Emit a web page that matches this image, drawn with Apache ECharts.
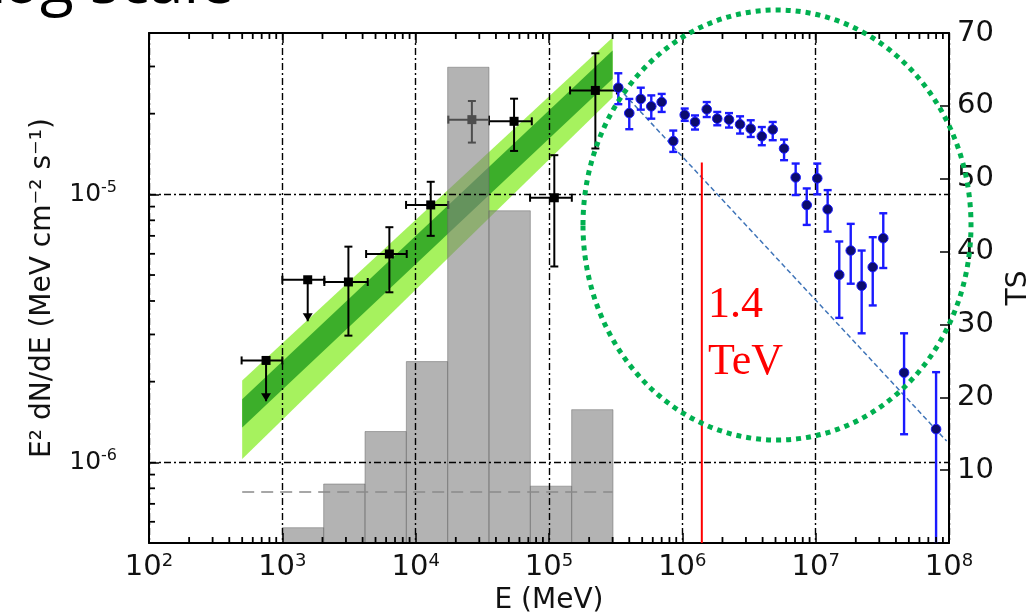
<!DOCTYPE html>
<html>
<head>
<meta charset="utf-8">
<title>SED log scale</title>
<script src="https://cdn.jsdelivr.net/npm/echarts@6/dist/echarts.min.js"></script>
<style>
  html, body { margin: 0; padding: 0; background: #fff; }
  #chart { width: 1033px; height: 613px; }
</style>
</head>
<body>
<div id="chart"></div>
<script>
// power-law fit band (E in MeV, E^2 dN/dE in MeV cm^-2 s^-1)
var bandE = [500, 3.0e5];
var bandOuterLo = [1.03e-6, 2.30e-5];
var bandOuterHi = [2.02e-6, 3.85e-5];
var bandInnerLo = [1.35e-6, 2.70e-5];
var bandInnerHi = [1.72e-6, 3.44e-5];

// black points
var fermiE   = [755, 1550, 3130, 6350, 12970, 26400, 54700, 109600, 222700];
var fermiELo = [495, 1000, 2065, 4250, 8470, 17600, 35500, 72100, 143900];
var fermiEHi = [1000, 2065, 4370, 8570, 17580, 35500, 74300, 148300, 323000];
var fermiF   = [2.40e-6, 4.80e-6, 4.71e-6, 5.99e-6, 9.13e-6, 1.90e-5, 1.873e-5, 9.71e-6, 2.442e-5];
var fermiFLo = [1.69e-6, 3.36e-6, 2.97e-6, 4.31e-6, 7.00e-6, 1.56e-5, 1.452e-5, 5.38e-6, 1.483e-5];
var fermiFHi = [2.40e-6, 4.80e-6, 6.38e-6, 7.54e-6, 1.114e-5, 2.23e-5, 2.275e-5, 1.40e-5, 3.36e-5];
var fermiUL  = [1, 1, 0, 0, 0, 0, 0, 0, 0];

// blue points
var hawcE = [3.31e5, 4.00e5, 4.88e5, 5.85e5, 7.00e5, 8.55e5, 1.042e6, 1.245e6, 1.524e6, 1.828e6,
             2.239e6, 2.710e6, 3.258e6, 3.945e6, 4.764e6, 5.794e6, 7.079e6, 8.570e6, 1.028e7, 1.230e7,
             1.503e7, 1.832e7, 2.213e7, 2.679e7, 3.214e7, 4.603e7, 8.000e7];
var hawcF = [2.50e-5, 2.01e-5, 2.27e-5, 2.13e-5, 2.21e-5, 1.58e-5, 1.98e-5, 1.862e-5, 2.075e-5, 1.916e-5,
             1.90e-5, 1.825e-5, 1.758e-5, 1.647e-5, 1.745e-5, 1.483e-5, 1.156e-5, 9.12e-6, 1.147e-5, 8.79e-6,
             5.01e-6, 6.17e-6, 4.56e-6, 5.35e-6, 6.86e-6, 2.16e-6, 1.33e-6];
var hawcFHi = [2.83e-5, 2.27e-5, 2.50e-5, 2.34e-5, 2.37e-5, 1.73e-5, 2.09e-5, 1.97e-5, 2.21e-5, 2.03e-5,
               2.01e-5, 1.955e-5, 1.89e-5, 1.783e-5, 1.862e-5, 1.601e-5, 1.303e-5, 1.052e-5, 1.303e-5, 1.037e-5,
               6.67e-6, 7.76e-6, 6.17e-6, 6.92e-6, 8.50e-6, 3.03e-6, 2.17e-6];
var hawcFLo = [2.17e-5, 1.75e-5, 2.07e-5, 1.916e-5, 2.03e-5, 1.44e-5, 1.88e-5, 1.745e-5, 1.943e-5, 1.81e-5,
               1.775e-5, 1.686e-5, 1.637e-5, 1.525e-5, 1.592e-5, 1.341e-5, 9.94e-6, 7.69e-6, 1.0e-5, 7.26e-6,
               3.46e-6, 4.64e-6, 3.03e-6, 3.85e-6, 5.31e-6, 1.273e-6, 3.0e-7];

// TS histogram (right axis)
var tsBinLo = [1000, 2042, 4169, 8511, 17378, 35481, 72444, 147911];
var tsBinHi = [2042, 4169, 8511, 17378, 35481, 72444, 147911, 301995];
var tsValue = [2.1, 8.1, 15.3, 24.9, 65.3, 45.6, 7.8, 18.3];
var tsLevelE = [500, 3.0e5];
var tsLevel = [7, 7];

// dashed extrapolation and 1.4 TeV marker
var slopeE = [3.31e5, 9.6e7];
var slopeF = [2.50e-5, 1.20e-6];
var markE = [1.4e6, 1.4e6];
var markF = [5e-7, 1.315e-5];

// axis ranges
var xMin = 1e2, xMax = 1e8;
var yMin = 5e-7, yMax = 4e-5;

// minor tick positions (2..9 x 10^n) inside a range
function minorList(lo, hi) {
    var out = [];
    for (var d = Math.floor(Math.log10(lo)); d <= Math.ceil(Math.log10(hi)); d++) {
        for (var k = 2; k <= 9; k++) {
            var v = k * Math.pow(10, d);
            if (v > lo * 1.0001 && v < hi * 0.9999) out.push(v);
        }
    }
    return out;
}

var xMinor = minorList(xMin, xMax);
var yMinor = minorList(yMin, yMax);

// rows: [x, y, side]  side 0 = bottom, 1 = top, 2 = left
var minorRows = [];
xMinor.forEach(function (v) { minorRows.push([v, yMin, 0]); minorRows.push([v, yMax, 1]); });
yMinor.forEach(function (v) { minorRows.push([xMin, v, 2]); });

var frame = {show: true, lineStyle: {color: '#000', width: 2}};
var dashDot = {show: true, lineStyle: {color: '#000', width: 1.4, type: [7, 3, 2, 3]}};
var tickStyle = {color: '#000', width: 1.5};
var font = 'DejaVu Sans';

function powLabel(v) {
    return '{b|10}{s|' + Math.round(Math.log10(v)) + '}';
}

function band(lo, hi, color) {
    return function (params, api) {
        if (params.dataIndex !== 0) return;
        var pts = [];
        for (var i = 0; i < bandE.length; i++) pts.push(api.coord([bandE[i], hi[i]]));
        for (var j = bandE.length - 1; j >= 0; j--) pts.push(api.coord([bandE[j], lo[j]]));
        return {type: 'polygon', shape: {points: pts}, style: {fill: color}};
    };
}

function seg(a, b, st) {
    return {type: 'line', shape: {x1: a[0], y1: a[1], x2: b[0], y2: b[1]}, style: st};
}

function fermiItem(params, api) {
    var i = params.dataIndex;
    var st = {stroke: '#000', lineWidth: 2};
    var c = api.coord([fermiE[i], fermiF[i]]);
    var l = api.coord([fermiELo[i], fermiF[i]]);
    var r = api.coord([fermiEHi[i], fermiF[i]]);
    var lo = api.coord([fermiE[i], fermiFLo[i]]);
    var hi = api.coord([fermiE[i], fermiFHi[i]]);
    var ch = [
        seg(l, r, st),
        seg([l[0], l[1] - 4], [l[0], l[1] + 4], st),
        seg([r[0], r[1] - 4], [r[0], r[1] + 4], st),
        seg(hi, lo, st)
    ];
    if (fermiUL[i]) {
        ch.push({type: 'polygon', shape: {points: [[lo[0] - 5, lo[1] - 8], [lo[0] + 5, lo[1] - 8], [lo[0], lo[1]]]},
            style: {fill: '#000'}});
    } else {
        ch.push(seg([hi[0] - 4, hi[1]], [hi[0] + 4, hi[1]], st));
        ch.push(seg([lo[0] - 4, lo[1]], [lo[0] + 4, lo[1]], st));
    }
    ch.push({type: 'rect', shape: {x: c[0] - 4.5, y: c[1] - 4.5, width: 9, height: 9}, style: {fill: '#000'}});
    return {type: 'group', children: ch};
}

function hawcItem(params, api) {
    var i = params.dataIndex;
    var st = {stroke: '#1a1aff', lineWidth: 2.4};
    var c = api.coord([hawcE[i], hawcF[i]]);
    var lo = api.coord([hawcE[i], hawcFLo[i]]);
    var hi = api.coord([hawcE[i], hawcFHi[i]]);
    return {type: 'group', children: [
        seg(hi, lo, st),
        seg([hi[0] - 4, hi[1]], [hi[0] + 4, hi[1]], st),
        seg([lo[0] - 4, lo[1]], [lo[0] + 4, lo[1]], st),
        {type: 'circle', shape: {cx: c[0], cy: c[1], r: 4.8}, style: {fill: '#0c0c6e', stroke: '#1a1aff', lineWidth: 1}}
    ]};
}

function tsBarItem(params, api) {
    var i = params.dataIndex;
    var p0 = api.coord([tsBinLo[i], 0]);
    var p1 = api.coord([tsBinHi[i], tsValue[i]]);
    return {type: 'rect',
        shape: {x: p0[0], y: p1[1], width: p1[0] - p0[0], height: p0[1] - p1[1]},
        style: {fill: 'rgba(128,128,128,0.6)', stroke: 'rgba(95,95,95,0.45)', lineWidth: 1}};
}

// minor ticks on the frame
function minorItem(params, api) {
    var row = minorRows[params.dataIndex];
    var p = api.coord([row[0], row[1]]);
    var q;
    if (row[2] === 0) q = [p[0], p[1] - 6];
    else if (row[2] === 1) q = [p[0], p[1] + 6];
    else q = [p[0] + 6, p[1]];
    return {type: 'line', shape: {x1: p[0], y1: p[1], x2: q[0], y2: q[1]},
        style: {stroke: '#000', lineWidth: 1.8}};
}

var myChart = echarts.init(document.getElementById('chart'));

var option = {
    animation: false,
    backgroundColor: '#fff',
    grid: {left: 149, right: 84, top: 33, bottom: 70, containLabel: false, outerBoundsMode: 'none'},
    xAxis: [
        {
            type: 'log', min: xMin, max: xMax, position: 'bottom', z: 5,
            axisLine: frame,
            axisTick: {show: true, inside: true, length: 10, lineStyle: tickStyle},
            axisLabel: {
                margin: 9, formatter: powLabel,
                rich: {
                    b: {fontSize: 29, fontFamily: font, color: '#111', lineHeight: 30},
                    s: {fontSize: 18, fontFamily: font, color: '#111', verticalAlign: 'top', lineHeight: 14}
                }
            },
            splitLine: dashDot,
            name: 'E (MeV)', nameLocation: 'middle', nameGap: 44,
            nameTextStyle: {fontSize: 28, fontFamily: font, color: '#111'}
        },
        {
            type: 'log', min: xMin, max: xMax, position: 'top', z: 5,
            axisLine: frame,
            axisTick: {show: true, inside: true, length: 10, lineStyle: tickStyle},
            axisLabel: {show: false}, splitLine: {show: false}
        }
    ],
    yAxis: [
        {
            type: 'log', min: yMin, max: yMax, position: 'left', z: 5,
            axisLine: frame,
            axisTick: {show: true, inside: true, length: 10, customValues: [1e-6, 1e-5], lineStyle: tickStyle},
            axisLabel: {
                margin: 32, customValues: [1e-6, 1e-5],
                formatter: function (v) {
                    return '{b|10}{s|-' + Math.abs(Math.round(Math.log10(v))) + '}';
                },
                rich: {
                    b: {fontSize: 25, fontFamily: font, color: '#111', lineHeight: 28},
                    s: {fontSize: 16, fontFamily: font, color: '#111', verticalAlign: 'top', lineHeight: 12}
                }
            },
            splitLine: dashDot,
            name: 'E\u00b2 dN/dE (MeV cm\u207b\u00b2 s\u207b\u00b9)', nameLocation: 'middle', nameGap: 92, nameRotate: 90,
            nameTextStyle: {fontSize: 28, fontFamily: font, color: '#111'}
        },
        {
            type: 'value', min: 0, max: 70, interval: 10, position: 'right', z: 5,
            axisLine: frame,
            axisTick: {show: true, inside: true, length: 9, lineStyle: tickStyle},
            axisLabel: {margin: 8, showMinLabel: false, fontSize: 29, fontFamily: font, color: '#111'},
            splitLine: {show: false},
            name: 'TS', nameLocation: 'middle', nameGap: 56, nameRotate: 90,
            nameTextStyle: {fontSize: 28, fontFamily: font, color: '#111'}
        }
    ],
    series: [
        {
            type: 'custom', name: 'band outer', xAxisIndex: 0, yAxisIndex: 0, z: 1, clip: true,
            renderItem: band(bandOuterLo, bandOuterHi, '#a6f25e'),
            data: bandE.map(function (e, i) { return [e, bandOuterLo[i], bandOuterHi[i]]; }),
            encode: {x: 0, y: [1, 2]}
        },
        {
            type: 'custom', name: 'band inner', xAxisIndex: 0, yAxisIndex: 0, z: 1, clip: true,
            renderItem: band(bandInnerLo, bandInnerHi, '#3cae2a'),
            data: bandE.map(function (e, i) { return [e, bandInnerLo[i], bandInnerHi[i]]; }),
            encode: {x: 0, y: [1, 2]}
        },
        {
            type: 'custom', name: 'points', xAxisIndex: 0, yAxisIndex: 0, z: 2, clip: true,
            renderItem: fermiItem,
            data: fermiE.map(function (e, i) { return [e, fermiF[i]]; }),
            encode: {x: 0, y: 1}
        },
        {
            type: 'custom', name: 'TS', xAxisIndex: 0, yAxisIndex: 1, z: 3, clip: true,
            renderItem: tsBarItem,
            data: tsValue.map(function (v, i) { return [tsBinLo[i], tsBinHi[i], v]; }),
            encode: {x: [0, 1], y: 2}
        },
        {
            type: 'line', name: 'TS level', xAxisIndex: 0, yAxisIndex: 1, z: 4, symbol: 'none',
            lineStyle: {color: '#8a8a8a', width: 1.5, type: [12, 7]},
            data: tsLevelE.map(function (e, i) { return [e, tsLevel[i]]; })
        },
        {
            type: 'line', name: 'slope', xAxisIndex: 0, yAxisIndex: 0, z: 6, symbol: 'none',
            lineStyle: {color: '#3f74b8', width: 1.5, type: [5, 3]},
            data: slopeE.map(function (e, i) { return [e, slopeF[i]]; })
        },
        {
            type: 'line', name: '1.4 TeV', xAxisIndex: 0, yAxisIndex: 0, z: 6, symbol: 'none',
            lineStyle: {color: '#ff0000', width: 2},
            data: markE.map(function (e, i) { return [e, markF[i]]; })
        },
        {
            type: 'custom', name: 'blue', xAxisIndex: 0, yAxisIndex: 0, z: 7, clip: true,
            renderItem: hawcItem,
            data: hawcE.map(function (e, i) { return [e, hawcF[i]]; }),
            encode: {x: 0, y: 1}
        },
        {
            type: 'custom', name: 'minor ticks', xAxisIndex: 0, yAxisIndex: 0, z: 8, silent: true,
            renderItem: minorItem,
            data: minorRows,
            encode: {x: 0, y: 1}
        }
    ],
    graphic: [
        {
            type: 'text', x: 234, y: -15, z: 20,
            style: {text: 'Log scale', font: '62px "Open Sans"', fill: '#000', align: 'right', verticalAlign: 'middle'}
        },
        {
            type: 'text', x: 708, y: 305, z: 20,
            style: {text: '1.4', font: '44px "Liberation Serif"', fill: '#ff0000', align: 'left', verticalAlign: 'middle'}
        },
        {
            type: 'text', x: 708, y: 362, z: 20,
            style: {text: 'TeV', font: '44px "Liberation Serif"', fill: '#ff0000', align: 'left', verticalAlign: 'middle'}
        },
        {
            type: 'ellipse', z: 30,
            shape: {cx: 777, cy: 225, rx: 194, ry: 215},
            style: {fill: 'none', stroke: '#00b050', lineWidth: 5, lineDash: [5, 5]}
        }
    ]
};

myChart.setOption(option);
</script>
</body>
</html>
